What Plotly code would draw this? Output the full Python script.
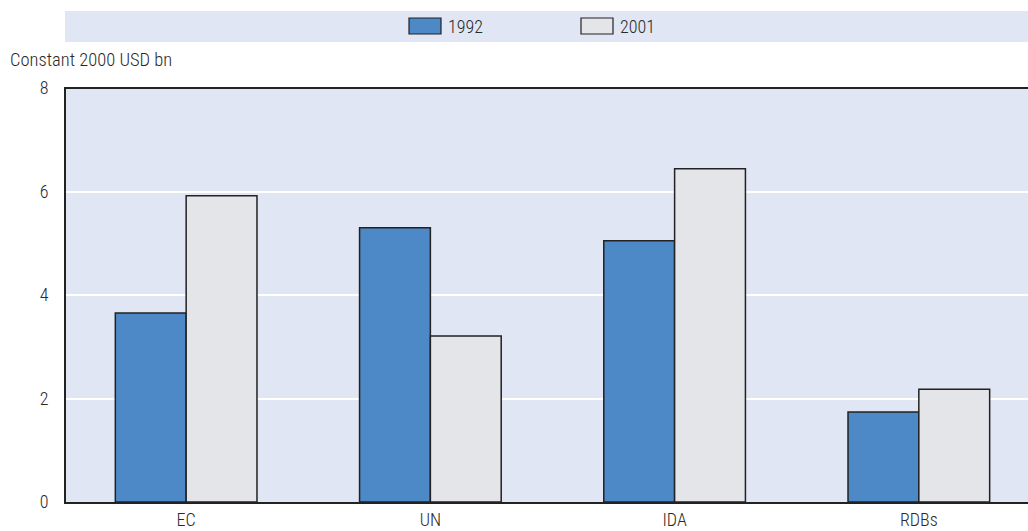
import plotly.graph_objects as go

categories = ["EC", "UN", "IDA", "RDBs"]
values_1992 = [3.65, 5.30, 5.05, 1.74]
values_2001 = [5.92, 3.21, 6.44, 2.18]
y_ticks = [0, 2, 4, 6, 8]
series_names = ["1992", "2001"]
series_colors = ["#4d89c7", "#e4e5e8"]

FONT = "Roboto Condensed, Liberation Sans Narrow, sans-serif"
BG = "#e0e6f3"
INK = "#222222"
TXT = "#2a2a2a"
W, H = 1028, 531
L, R, T, B = 66, 0, 88, 29
PW, PH = W - L - R, H - T - B


def px_x(x):
    return (x - L) / PW


def px_y(y):
    return (H - B - y) / PH


def fnt(size=18):
    return dict(family=FONT, size=size, color=TXT, weight=300)


fig = go.Figure()
for name, vals, col in zip(series_names, [values_1992, values_2001], series_colors):
    fig.add_bar(name=name, x=categories, y=vals, showlegend=False,
                marker=dict(color=col, line=dict(color=INK, width=1.5)))

shapes = [
    dict(type="rect", xref="paper", yref="paper", x0=px_x(65), x1=1.0, y0=px_y(42), y1=px_y(11),
         fillcolor=BG, line=dict(width=0), layer="below"),
    dict(type="line", xref="paper", yref="paper", x0=px_x(64), x1=1, y0=1, y1=1,
         line=dict(color=INK, width=2)),
]
annotations = [
    dict(text="Constant 2000 USD bn", xref="paper", yref="paper", x=px_x(8), y=px_y(60),
         xanchor="left", yanchor="middle", showarrow=False, font=fnt(18.5)),
]
# legend swatches and labels
leg_x = [409, 581]
for lx, name, col in zip(leg_x, series_names, series_colors):
    shapes.append(dict(type="rect", xref="paper", yref="paper", x0=px_x(lx), x1=px_x(lx + 32),
                       y0=px_y(34), y1=px_y(18), fillcolor=col, line=dict(color=INK, width=1.2)))
    annotations.append(dict(text=name, xref="paper", yref="paper", x=px_x(lx + 37), y=px_y(26.5),
                            xanchor="left", yanchor="middle", showarrow=False, font=fnt(18)))

fig.update_layout(
    width=W, height=H,
    margin=dict(l=L, r=R, t=T, b=B),
    paper_bgcolor="white",
    plot_bgcolor=BG,
    barmode="group",
    bargap=0.42,
    bargroupgap=0,
    font=fnt(18),
    showlegend=False,
    xaxis=dict(range=[-0.492, 3.447], showline=True, linecolor=INK, linewidth=2,
               showgrid=False, ticks="", tickfont=fnt(18)),
    yaxis=dict(range=[0, 8], tickvals=y_ticks, showline=True, linecolor=INK, linewidth=2,
               showgrid=True, gridcolor="white", gridwidth=1.5, zeroline=False,
               ticks="", ticklabelstandoff=12, tickfont=fnt(18)),
    shapes=shapes,
    annotations=annotations,
)

fig.write_html("out.html")
